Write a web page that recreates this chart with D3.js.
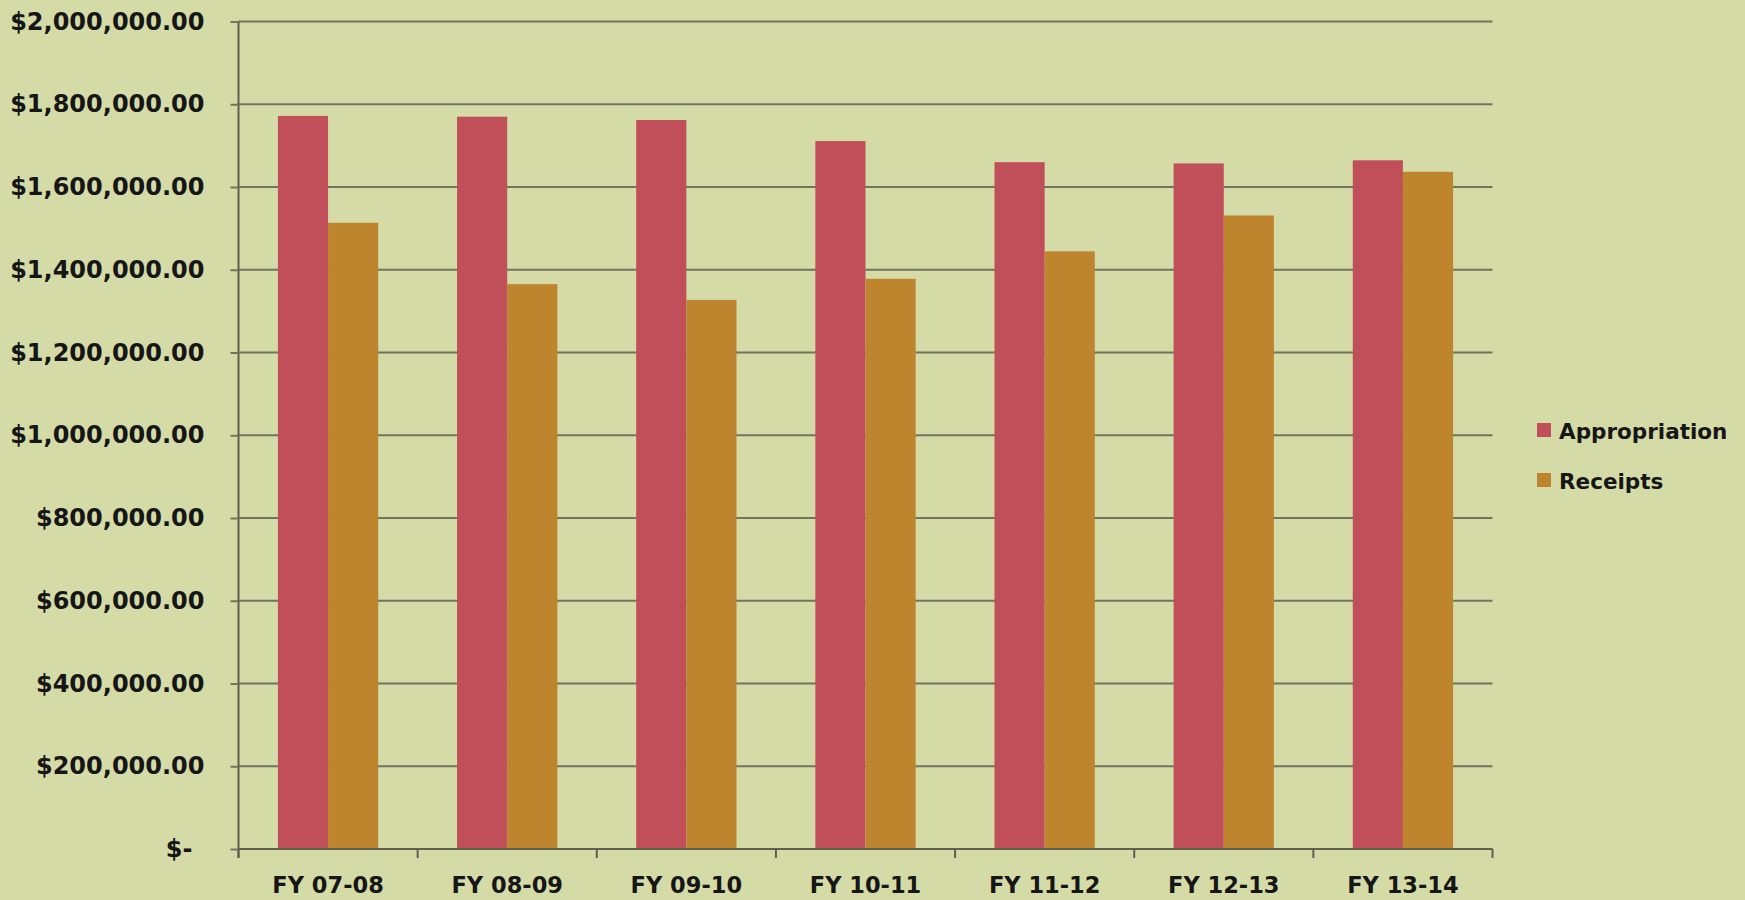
<!DOCTYPE html>
<html>
<head>
<meta charset="utf-8">
<script src="https://cdn.jsdelivr.net/npm/d3@7/dist/d3.min.js"></script>
<style>
  html, body { margin: 0; padding: 0; background: #d4dba7; }
  svg { display: block; }
  text { font-family: "DejaVu Sans", sans-serif; font-weight: bold; fill: #161616; }
</style>
</head>
<body>
<svg id="chart" width="1745" height="900"></svg>
<script>
const categories = ["FY 07-08", "FY 08-09", "FY 09-10", "FY 10-11", "FY 11-12", "FY 12-13", "FY 13-14"];
const seriesNames = ["Appropriation", "Receipts"];
const appropriation = [1771700, 1770000, 1762000, 1711000, 1660000, 1657000, 1664500];
const receipts = [1513400, 1365200, 1327100, 1378100, 1444500, 1531200, 1636700];
const yTicks = [0, 200000, 400000, 600000, 800000, 1000000, 1200000, 1400000, 1600000, 1800000, 2000000];
const colors = ["#c04f5a", "#bf852e"];

(function () {
const svg = d3.select("#chart");
svg.append("rect").attr("width", 1745).attr("height", 900).attr("fill", "#d4dba7");

const pLeft = 238.5, pRight = 1492.5, pTop = 21.5, pBottom = 849;
const x0 = d3.scaleBand().domain(categories).range([pLeft, pRight]).padding(0);
const bw = x0.bandwidth();
const x1 = d3.scaleBand().domain(seriesNames).range([bw * 0.22, bw * 0.78]).padding(0);
const y = d3.scaleLinear().domain([0, 2000000]).range([pBottom, pTop]);

const data = categories.map((c, i) => ({ cat: c, vals: [appropriation[i], receipts[i]] }));

// gridlines
svg.append("g").selectAll("line").data(yTicks.filter(d => d > 0)).join("line")
  .attr("x1", pLeft).attr("x2", pRight)
  .attr("y1", d => y(d)).attr("y2", d => y(d))
  .attr("stroke", "#6f745b").attr("stroke-width", 2);

// bars
const groups = svg.append("g").selectAll("g").data(data).join("g")
  .attr("transform", d => `translate(${x0(d.cat)},0)`);
groups.selectAll("rect").data(d => d.vals.map((v, k) => ({ k, v }))).join("rect")
  .attr("x", d => x1(seriesNames[d.k]))
  .attr("width", x1.bandwidth())
  .attr("y", d => y(d.v))
  .attr("height", d => y(0) - y(d.v))
  .attr("fill", d => colors[d.k]);

// y axis
const fmt = v => v === 0 ? "$-" : "$" + d3.format(",.2f")(v);
const yAxis = svg.append("g").attr("transform", `translate(${pLeft},0)`)
  .call(d3.axisLeft(y).tickValues(yTicks).tickSize(8).tickPadding(26).tickFormat(fmt));
yAxis.select(".domain").attr("stroke", "#5c604c").attr("stroke-width", 2)
  .attr("d", `M0,${pTop}V${pBottom + 9}`);
yAxis.selectAll(".tick line").attr("stroke", "#6f745b").attr("stroke-width", 2);
yAxis.selectAll(".tick text")
  .style("font-size", "24px").style("font-family", "'DejaVu Sans', sans-serif")
  .style("font-weight", "bold").attr("fill", "#161616")
  .attr("dx", d => d === 0 ? -12 : 0);

// x axis
const xAxis = svg.append("g").attr("transform", `translate(0,${pBottom})`)
  .call(d3.axisBottom(x0).tickSize(0).tickPadding(0));
xAxis.select(".domain").attr("stroke", "#5c604c").attr("stroke-width", 2)
  .attr("d", `M${pLeft},0H${pRight}`);
xAxis.selectAll(".tick text")
  .attr("y", 44).attr("dy", 0)
  .style("font-size", "22.5px").style("font-family", "'DejaVu Sans', sans-serif")
  .style("font-weight", "bold").attr("fill", "#161616");
const boundaries = categories.map(c => x0(c)).concat([pRight]);
svg.append("g").selectAll("line").data(boundaries).join("line")
  .attr("x1", d => d).attr("x2", d => d)
  .attr("y1", pBottom).attr("y2", pBottom + 9)
  .attr("stroke", "#5c604c").attr("stroke-width", 2);

// legend
const legend = svg.append("g").attr("transform", "translate(1537,423)");
const li = legend.selectAll("g").data(seriesNames).join("g")
  .attr("transform", (d, i) => `translate(0,${i * 50})`);
li.append("rect").attr("width", 14).attr("height", 14).attr("fill", (d, i) => colors[i]);
li.append("text").attr("x", 22).attr("y", 16).text(d => d)
  .style("font-size", "21.5px");
})();
</script>
</body>
</html>
